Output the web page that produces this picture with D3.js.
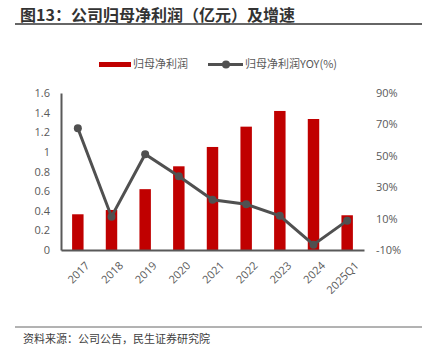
<!DOCTYPE html>
<html><head><meta charset="utf-8">
<script src="https://cdn.jsdelivr.net/npm/d3@7"></script>
<style>body{margin:0;background:#fff}svg{display:block;font-family:"Noto Sans CJK SC","Noto Sans",sans-serif}</style>
</head><body><svg id="c" width="434" height="356"></svg>
<script>
const categories = ["2017","2018","2019","2020","2021","2022","2023","2024","2025Q1"];
const profit = [0.364,0.408,0.62,0.853,1.05,1.257,1.417,1.335,0.354];
const yoy = [67.5,11.2,51,36.9,22,19.1,11.8,-6.6,8.7];
const leftTicks = [0,0.2,0.4,0.6,0.8,1,1.2,1.4,1.6];
const rightTicks = [-10,10,30,50,70,90];

const svg = d3.select("#c");
const L = 61, R = 364, T = 93, B = 250;
const x = d3.scaleBand().domain(categories).range([L, R]).paddingInner(0.66).paddingOuter(0.33);
const y = d3.scaleLinear().domain([0,1.6]).range([B,T]);
const y2 = d3.scaleLinear().domain([-10,90]).range([B,T]);

// title
svg.append("text").attr("x",20).attr("y",21).attr("font-size",16).attr("font-weight","bold").attr("fill","#333")
  .text("图13：公司归母净利润（亿元）及增速");
svg.append("line").attr("x1",15).attr("x2",422).attr("y1",24).attr("y2",24).attr("stroke","#666").attr("stroke-width",2);

// legend
svg.append("rect").attr("x",99).attr("y",62).attr("width",32).attr("height",5).attr("fill","#c00000");
svg.append("text").attr("x",133).attr("y",68).attr("font-size",11).attr("fill","#595959").text("归母净利润");
svg.append("line").attr("x1",208).attr("x2",243).attr("y1",64.5).attr("y2",64.5).attr("stroke","#505050").attr("stroke-width",3);
svg.append("circle").attr("cx",226).attr("cy",64.5).attr("r",4).attr("fill","#505050");
svg.append("text").attr("x",245).attr("y",68).attr("font-size",11).attr("fill","#595959").text("归母净利润YOY(%)");

// bars
svg.append("g").selectAll("rect").data(categories).join("rect")
  .attr("x",d=>x(d)).attr("width",x.bandwidth())
  .attr("y",(d,i)=>y(profit[i])).attr("height",(d,i)=>B-y(profit[i]))
  .attr("fill","#c00000");

// axes
const ax = svg.append("g").attr("transform",`translate(${L},0)`).call(d3.axisLeft(y).tickValues(leftTicks).tickSize(0).tickPadding(11).tickFormat(d=>d3.format("")(+d.toFixed(1))));
ax.select(".domain").attr("stroke","#595959").attr("stroke-width",2);
ax.selectAll("text").attr("font-size",11).attr("fill","#595959").attr("font-family","'Open Sans','Noto Sans',sans-serif");

const ax2 = svg.append("g").attr("transform",`translate(${R},0)`).call(d3.axisRight(y2).tickValues(rightTicks).tickSize(0).tickPadding(12).tickFormat(d=>d+"%"));
ax2.select(".domain").remove();
ax2.selectAll("text").attr("font-size",11).attr("fill","#595959").attr("font-family","'Open Sans','Noto Sans',sans-serif");

const axb = svg.append("g").attr("transform",`translate(0,${B})`).call(d3.axisBottom(x).tickSize(0).tickPadding(8));
axb.select(".domain").attr("stroke","#595959").attr("stroke-width",2);
axb.selectAll("text").attr("font-size",11).attr("fill","#595959").attr("font-family","'Open Sans','Noto Sans',sans-serif")
  .attr("text-anchor","end").attr("dy","0.35em")
  .attr("transform","translate(4,8) rotate(-45)");

// line
const cx = d=>x(d)+x.bandwidth()/2;
svg.append("path").datum(categories).attr("fill","none").attr("stroke","#505050").attr("stroke-width",3)
  .attr("d",d3.line().x(cx).y((d,i)=>y2(yoy[i])));
svg.append("g").selectAll("circle").data(categories).join("circle")
  .attr("cx",cx).attr("cy",(d,i)=>y2(yoy[i])).attr("r",4).attr("fill","#505050");

// footer
svg.append("line").attr("x1",15).attr("x2",422).attr("y1",327).attr("y2",327).attr("stroke","#666").attr("stroke-width",1);
svg.append("text").attr("x",23).attr("y",343).attr("font-size",11).attr("fill","#404040").text("资料来源：公司公告，民生证券研究院");
</script></body></html>
